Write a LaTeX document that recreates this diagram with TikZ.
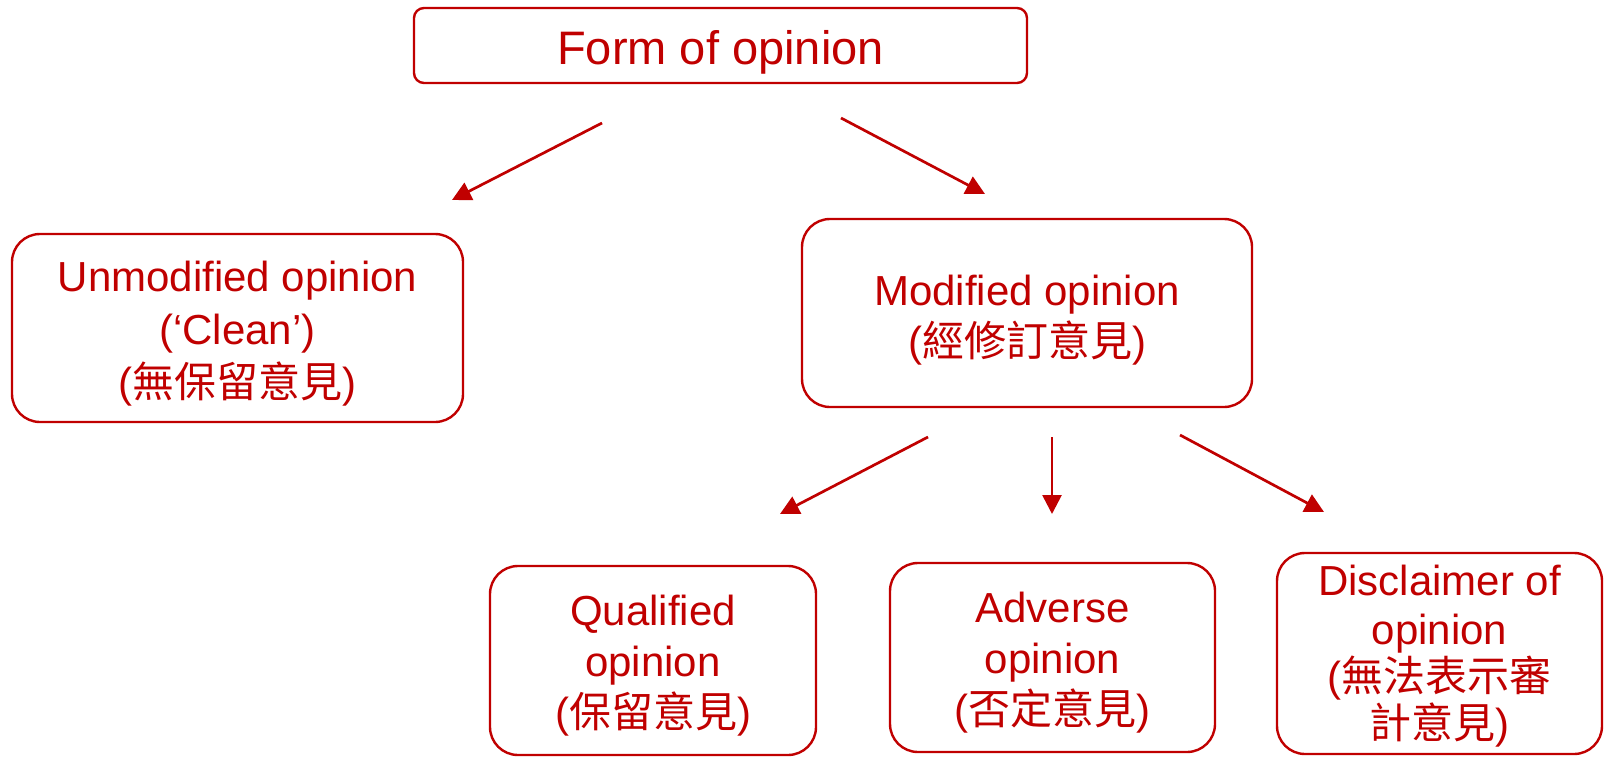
\documentclass[tikz,border=0pt]{standalone}
\usepackage{fontspec}
\setmainfont{Liberation Sans}
\newfontfamily\cjk{Noto Sans CJK TC}
\usetikzlibrary{arrows.meta}
\definecolor{dred}{RGB}{192,0,0}
\tikzset{
  box/.style={draw=dred, line width=2.4pt, rounded corners=28pt, rectangle, inner sep=0pt},
  topbox/.style={box, rounded corners=10pt},
  txt/.style={align=center, text=dred, inner sep=0pt, font=\fontsize{42}{51}\selectfont},
  arr/.style={draw=dred, line width=2.7pt, -{Triangle[length=19pt,width=19pt]}}
}
\begin{document}
\begin{tikzpicture}[x=1pt,y=-1pt]
\useasboundingbox (0,0) rectangle (1605,757);
\node[topbox, minimum width=613pt, minimum height=75pt] (form) at (720.5,45.5) {};
\node[txt, font=\fontsize{47}{56}\selectfont] (formT) at ([yshift=-7pt]form.center) {Form of opinion};
\node[box, minimum width=451pt, minimum height=188pt] (unmod) at (237.5,328) {};
\node[txt, font=\fontsize{42}{53}\selectfont] (unmodT) at ([yshift=-6pt]unmod.center) {Unmodified opinion\\(‘Clean’)\\({\cjk 無保留意見})};
\node[box, minimum width=450pt, minimum height=188pt] (mod) at (1027,313) {};
\node[txt] (modT) at ([yshift=-7pt]mod.center) {Modified opinion\\({\cjk 經修訂意見})};
\node[box, minimum width=326pt, minimum height=189pt] (qual) at (653,660.5) {};
\node[txt] (qualT) at ([yshift=-5pt]qual.center) {Qualified\\opinion\\({\cjk 保留意見})};
\node[box, minimum width=325pt, minimum height=189pt] (adv) at (1052.5,657.5) {};
\node[txt] (advT) at ([yshift=-5pt]adv.center) {Adverse\\opinion\\({\cjk 否定意見})};
\node[box, minimum width=325pt, minimum height=201pt] (disc) at (1439.5,653.5) {};
\node[txt, font=\fontsize{42}{47}\selectfont] (discT) at ([yshift=-3pt]disc.center) {Disclaimer of\\[2pt]opinion\\({\cjk 無法表示審}\\{\cjk 計意見})};
\coordinate (a1) at (602,123); \coordinate (a2) at (452,200);
\coordinate (b1) at (841,118); \coordinate (b2) at (985,194);
\coordinate (c1) at (928,437); \coordinate (c2) at (780,514);
\coordinate (d1) at (1052,437); \coordinate (d2) at (1052,514);
\coordinate (e1) at (1180,435); \coordinate (e2) at (1324,512);
\draw[arr] (a1) -- (a2);
\draw[arr] (b1) -- (b2);
\draw[arr] (c1) -- (c2);
\draw[arr] (d1) -- (d2);
\draw[arr] (e1) -- (e2);
\end{tikzpicture}
\end{document}
